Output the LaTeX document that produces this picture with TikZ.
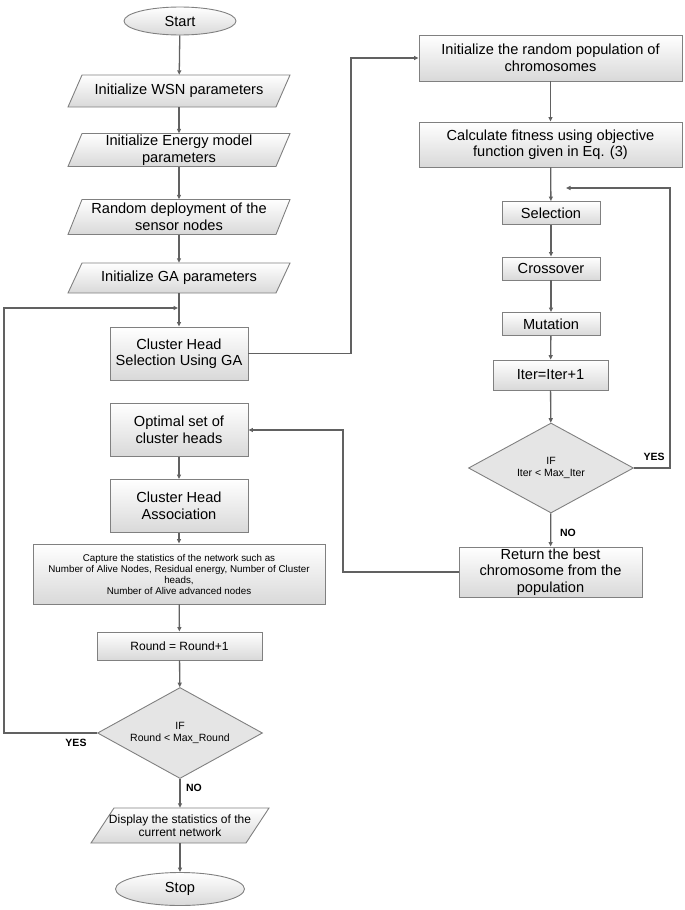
\documentclass[tikz,border=0pt]{standalone}
\usepackage{fontspec}
\setmainfont{Liberation Sans}
\usetikzlibrary{shapes.geometric,arrows.meta,calc}
\tikzset{
  conn/.style={draw=black!62, line width=1.3pt},
  arr/.style={conn, -{Triangle[length=4.5pt,width=4pt]}},
  box/.style={rectangle, draw=black!50, line width=0.9pt, top color=white, bottom color=black!15,
    align=center, inner sep=0pt, font=\fontsize{14.6}{16.5}\selectfont},
  term/.style={ellipse, draw=black!50, line width=0.9pt, top color=white, bottom color=black!15,
    inner sep=0pt, font=\fontsize{14.6}{16.5}\selectfont},
  iofill/.style={draw=black!50, line width=0.9pt, top color=white, bottom color=black!15},
  iotext/.style={rectangle, draw=none, align=center, inner sep=0pt, font=\fontsize{14.6}{16.5}\selectfont},
  dec/.style={diamond, draw=black!50, line width=0.9pt, fill=black!10, aspect=1.8, inner sep=0pt,
    align=center, font=\fontsize{10.5}{12}\selectfont},
  lab/.style={font=\fontsize{10.5}{12}\selectfont\bfseries, inner sep=0pt},
}
\def\ioslant{7}
\newcommand\ioshape[7][]{% [font], name, x, y, w, h, text
  \path[iofill] (#3-#5/2+\ioslant,#4-#6/2) -- (#3+#5/2+\ioslant,#4-#6/2) -- (#3+#5/2-\ioslant,#4+#6/2) -- (#3-#5/2-\ioslant,#4+#6/2) -- cycle;
  \node[iotext, minimum width=#5, minimum height=#6, #1] (#2) at (#3,#4) {#7};
}
\begin{document}
\begin{tikzpicture}[x=1pt, y=-1pt]
\useasboundingbox (0,0) rectangle (685,910);

% left column
\node[term, minimum width=112, minimum height=28] (start) at (180,21) {Start};
\ioshape{wsn}{179}{91}{208}{32}{Initialize WSN parameters}
\ioshape{energy}{179}{150}{208}{33}{Initialize Energy model\\parameters}
\ioshape{random}{179}{217}{208}{35}{Random deployment of the\\sensor nodes}
\ioshape{gaparam}{179}{278}{208}{30}{Initialize GA parameters}
\node[box, minimum width=138, minimum height=53] (chs) at (179,353.5) {Cluster Head\\Selection Using GA};
\node[box, minimum width=138, minimum height=53] (opt) at (179,430) {Optimal set of\\cluster heads};
\node[box, minimum width=138, minimum height=53] (cha) at (179,506) {Cluster Head\\Association};
\node[box, minimum width=292, minimum height=60, font=\fontsize{9.8}{11}\selectfont] (cap) at (179,574)
  {Capture the statistics of the network such as\\Number of Alive Nodes, Residual energy, Number of Cluster\\heads,\\Number of Alive advanced nodes};
\node[box, minimum width=165, minimum height=28, font=\fontsize{12}{14}\selectfont] (round) at (179.5,646) {Round = Round+1};
\node[dec, minimum width=165, minimum height=91] (rdia) at (180,733) {IF\\Round < Max\_Round};
\def\ioslant{11.5}
\ioshape[font=\fontsize{12}{13}\selectfont]{disp}{180}{825.5}{155}{35}{Display the statistics of the\\current network}
\node[term, minimum width=129, minimum height=33] (stop) at (180,889) {Stop};

% right column
\node[box, minimum width=263, minimum height=46] (pop) at (550.5,58) {Initialize the random population of\\chromosomes};
\node[box, minimum width=263, minimum height=45] (calc) at (550.5,144.5) {Calculate fitness using objective\\function given in Eq. (3)};
\node[box, minimum width=98, minimum height=23] (sel) at (551,213) {Selection};
\node[box, minimum width=98, minimum height=23] (cross) at (551,268.5) {Crossover};
\node[box, minimum width=98, minimum height=23] (mut) at (551,324) {Mutation};
\node[box, minimum width=115, minimum height=30] (iter) at (550.5,375) {Iter=Iter+1};
\node[dec, minimum width=165, minimum height=90] (idia) at (551,468) {IF\\Iter < Max\_Iter};
\node[box, minimum width=183, minimum height=50] (ret) at (550.5,572) {Return the best\\chromosome from the\\population};

% labels
\node[lab] (yes1) at (76,743) {YES};
\node[lab] (no1) at (194,788) {NO};
\node[lab] (yes2) at (654,457) {YES};
\node[lab] (no2) at (568,533) {NO};

% junction coordinates
\coordinate (j1) at (178,308);
\coordinate (c1) at (4,733);
\coordinate (c2) at (351,353.5);
\coordinate (j2) at (566,188);
\coordinate (c3) at (670,468);
\coordinate (c4) at (343,572);

% connectors
\draw[arr] (start) -- (wsn);
\draw[arr] (wsn) -- (energy);
\draw[arr] (energy) -- (random);
\draw[arr] (random) -- (gaparam);
\draw[arr] (gaparam) -- (chs);
\draw[arr] (opt) -- (cha);
\draw[arr] (cha) -- (cap);
\draw[arr] (cap) -- (round);
\draw[arr] (round) -- (rdia);
\draw[arr] (rdia) -- (disp);
\draw[arr] (disp) -- (stop);
\draw[arr] (pop) -- (calc);
\draw[arr] (calc) -- (sel);
\draw[arr] (sel) -- (cross);
\draw[arr] (cross) -- (mut);
\draw[arr] (mut) -- (iter);
\draw[arr] (iter) -- (idia);
\draw[arr] (idia) -- (ret);
\draw[arr] (rdia.west) -- (c1) |- (j1);
\draw[arr] (chs.east) -- (c2) |- (pop.west);
\draw[arr] (idia.east) -- (c3) |- (j2);
\draw[arr] (ret.west) -- (c4) |- (opt.east);
\end{tikzpicture}
\end{document}
